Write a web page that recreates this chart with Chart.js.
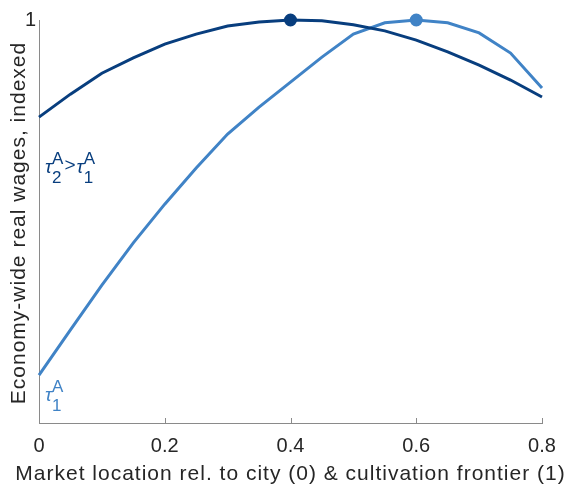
<!DOCTYPE html>
<html>
<head>
<meta charset="utf-8">
<script src="https://cdn.jsdelivr.net/npm/chart.js@4.4.1/dist/chart.umd.min.js"></script>
<style>
  html, body { margin: 0; padding: 0; background: #fff; }
  #wrap { width: 571px; height: 485px; }
</style>
</head>
<body>
<div id="wrap"><canvas id="myChart" width="571" height="485"></canvas></div>
<script>
// market location, 0 = city, 1 = cultivation frontier
const locations = [0, 0.05, 0.1, 0.15, 0.2, 0.25, 0.3, 0.35, 0.4, 0.45, 0.5, 0.55, 0.6, 0.65, 0.7, 0.75, 0.8];

// wages indexed (peak = 1)
const wagesHighTau = [0.759, 0.816, 0.868, 0.906, 0.940, 0.965, 0.985, 0.995, 1.0, 0.998, 0.988, 0.973, 0.950, 0.921, 0.888, 0.851, 0.809];
const wagesLowTau = [0.119, 0.231, 0.342, 0.447, 0.543, 0.633, 0.717, 0.784, 0.846, 0.908, 0.965, 0.993, 1.0, 0.993, 0.968, 0.918, 0.831];

const xTicks = [0, 0.2, 0.4, 0.6, 0.8];
const yTicks = [1];
const xTitle = 'Market location rel. to city (0) & cultivation frontier (1)';
const yTitle = 'Economy-wide real wages, indexed';

const DARK = 'rgb(8, 62, 126)';
const LIGHT = 'rgb(64, 131, 198)';
const AXIS = '#8a8a8a';
const TEXT = '#262626';
const FONT = '"Liberation Sans", Arial, sans-serif';

const toPoints = (ys) => locations.map((x, i) => ({ x: x, y: ys[i] }));
const peakRadius = (ys) => ys.map(v => v === 1 ? 5 : 0);

// inward tick marks, axis titles and curve labels, drawn after the data
const extras = {
  id: 'extras',
  afterDraw(chart) {
    const { ctx, chartArea, scales: { x, y } } = chart;
    ctx.save();
    ctx.strokeStyle = AXIS;
    ctx.lineWidth = 1;
    xTicks.forEach(v => {
      const px = Math.round(x.getPixelForValue(v)) + 0.5;
      ctx.beginPath();
      ctx.moveTo(px, y.bottom);
      ctx.lineTo(px, y.bottom - 5);
      ctx.stroke();
    });

    // axis titles (a bit of letter spacing, like the original)
    ctx.fillStyle = TEXT;
    ctx.font = '21px ' + FONT;
    ctx.letterSpacing = '1px';
    ctx.textAlign = 'center';
    ctx.textBaseline = 'middle';
    ctx.fillText(xTitle, (chartArea.left + chartArea.right) / 2, 474);
    ctx.save();
    ctx.translate(19, 223);
    ctx.rotate(-Math.PI / 2);
    ctx.fillText(yTitle, 0, 0);
    ctx.restore();
    ctx.letterSpacing = '0px';

    const tau = (sub, cx, cy, color) => {
      ctx.fillStyle = color;
      ctx.font = 'italic 19px ' + FONT;
      ctx.fillText('\u03C4', cx, cy);
      const w = ctx.measureText('\u03C4').width;
      ctx.font = '17px ' + FONT;
      ctx.fillText('A', cx + w, cy - 9);
      ctx.fillText(sub, cx + w, cy + 10);
      return cx + w + ctx.measureText('A').width;
    };
    ctx.textBaseline = 'middle';
    ctx.textAlign = 'left';
    let nx = tau('2', 45, 168, DARK);
    ctx.font = '19px ' + FONT;
    ctx.fillText('>', nx + 1, 166);
    nx += ctx.measureText('>').width + 2;
    tau('1', nx, 168, DARK);
    tau('1', 45, 396, LIGHT);
    ctx.restore();
  }
};

const config = {
  type: 'line',
  data: {
    datasets: [
      {
        label: 'tau2 > tau1',
        data: toPoints(wagesHighTau),
        borderColor: DARK,
        backgroundColor: DARK,
        borderWidth: 3,
        pointRadius: peakRadius(wagesHighTau),
        pointHoverRadius: 0,
        tension: 0,
        clip: false
      },
      {
        label: 'tau1',
        data: toPoints(wagesLowTau),
        borderColor: LIGHT,
        backgroundColor: LIGHT,
        borderWidth: 3,
        pointRadius: peakRadius(wagesLowTau),
        pointHoverRadius: 0,
        tension: 0,
        clip: false
      }
    ]
  },
  options: {
    responsive: false,
    animation: false,
    layout: { padding: { top: 20, right: 29, left: 0, bottom: 0 } },
    plugins: {
      legend: { display: false },
      tooltip: { enabled: false }
    },
    scales: {
      x: {
        type: 'linear',
        min: 0,
        max: 0.8,
        afterBuildTicks: (s) => { s.ticks = xTicks.map(v => ({ value: v })); },
        afterFit: (s) => { s.height = 62; },
        grid: { display: false, tickLength: 0 },
        border: { display: true, color: AXIS, width: 1 },
        ticks: {
          color: TEXT,
          font: { family: FONT, size: 20 },
          padding: 11,
          maxRotation: 0,
          callback: (v) => String(v)
        },
        title: { display: false }
      },
      y: {
        type: 'linear',
        min: 0,
        max: 1,
        afterBuildTicks: (s) => { s.ticks = yTicks.map(v => ({ value: v })); },
        afterFit: (s) => { s.width = 39; },
        grid: { display: false, tickLength: 0 },
        border: { display: true, color: AXIS, width: 1 },
        ticks: {
          color: TEXT,
          font: { family: FONT, size: 20 },
          padding: 3
        },
        title: { display: false }
      }
    }
  },
  plugins: [extras]
};

const myChart = new Chart(document.getElementById('myChart'), config);
</script>
</body>
</html>
